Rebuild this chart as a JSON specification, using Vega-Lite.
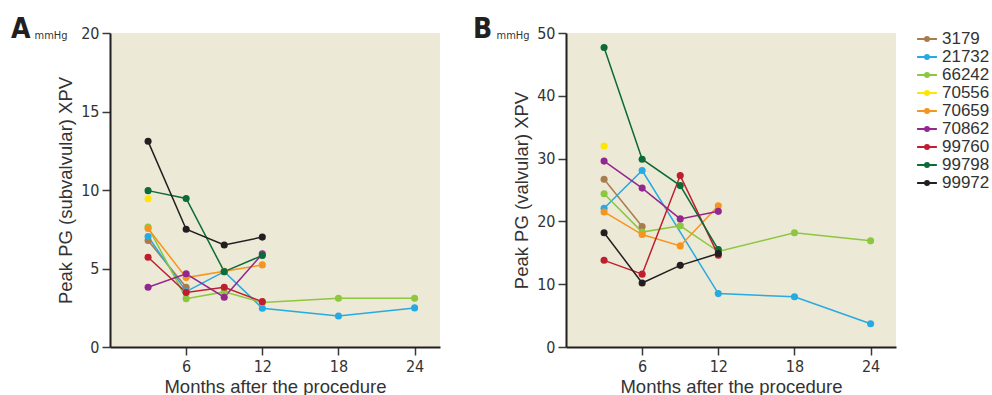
{
  "$schema": "https://vega.github.io/schema/vega-lite/v6.json",
  "padding": {"left": 11, "top": 16, "right": 95, "bottom": 0},
  "background": "white",
  "config": {
    "view": {"fill": "#ECE9D7", "stroke": null},
    "axis": {
      "grid": false,
      "domainColor": "#231F20", "domainWidth": 2,
      "tickColor": "#3a3a3a", "tickWidth": 1.5, "tickSize": 8,
      "labelFont": "Liberation Sans Narrow, DejaVu Sans Condensed, sans-serif", "labelFontSize": 16, "labelColor": "#333333", "labelPadding": 3,
      "titleFont": "Liberation Sans, sans-serif", "titleFontSize": 18.5, "titleFontWeight": "normal", "titleColor": "#333333"
    },
    "legend": {
      "labelFont": "Liberation Sans, sans-serif", "labelFontSize": 17, "labelColor": "#333333",
      "symbolType": "M-1.1,0H1.1M-0.22,0A0.22,0.22 0 1,0 0.22,0A0.22,0.22 0 1,0 -0.22,0",
      "symbolSize": 324, "symbolStrokeWidth": 2, "rowPadding": 0, "labelOffset": 5, "padding": 0
    },
    "title": {"font": "Liberation Sans Narrow, DejaVu Sans Condensed, sans-serif", "fontSize": 28, "fontWeight": "bold", "color": "#231F20"}
  },
  "datasets": {
    "A": [
      {"patient": "3179", "month": 3, "value": 6.78},
      {"patient": "3179", "month": 6, "value": 3.81},
      {"patient": "21732", "month": 3, "value": 7.04},
      {"patient": "21732", "month": 6, "value": 3.53},
      {"patient": "21732", "month": 9, "value": 4.8},
      {"patient": "21732", "month": 12, "value": 2.47},
      {"patient": "21732", "month": 18, "value": 1.98},
      {"patient": "21732", "month": 24, "value": 2.49},
      {"patient": "66242", "month": 3, "value": 7.64},
      {"patient": "66242", "month": 6, "value": 3.08},
      {"patient": "66242", "month": 9, "value": 3.51},
      {"patient": "66242", "month": 12, "value": 2.83},
      {"patient": "66242", "month": 18, "value": 3.11},
      {"patient": "66242", "month": 24, "value": 3.11},
      {"patient": "70556", "month": 3, "value": 9.44},
      {"patient": "70659", "month": 3, "value": 7.55},
      {"patient": "70659", "month": 6, "value": 4.42},
      {"patient": "70659", "month": 9, "value": 4.82},
      {"patient": "70659", "month": 12, "value": 5.23},
      {"patient": "70862", "month": 3, "value": 3.81},
      {"patient": "70862", "month": 6, "value": 4.66},
      {"patient": "70862", "month": 9, "value": 3.17},
      {"patient": "70862", "month": 12, "value": 5.93},
      {"patient": "99760", "month": 3, "value": 5.72},
      {"patient": "99760", "month": 6, "value": 3.47},
      {"patient": "99760", "month": 9, "value": 3.81},
      {"patient": "99760", "month": 12, "value": 2.89},
      {"patient": "99798", "month": 3, "value": 9.96},
      {"patient": "99798", "month": 6, "value": 9.46},
      {"patient": "99798", "month": 9, "value": 4.8},
      {"patient": "99798", "month": 12, "value": 5.83},
      {"patient": "99972", "month": 3, "value": 13.1},
      {"patient": "99972", "month": 6, "value": 7.5},
      {"patient": "99972", "month": 9, "value": 6.5},
      {"patient": "99972", "month": 12, "value": 7.0}
    ],
    "B": [
      {"patient": "3179", "month": 3, "value": 26.7},
      {"patient": "3179", "month": 6, "value": 19.2},
      {"patient": "21732", "month": 3, "value": 22.1},
      {"patient": "21732", "month": 6, "value": 28.1},
      {"patient": "21732", "month": 12, "value": 8.5},
      {"patient": "21732", "month": 18, "value": 8.0},
      {"patient": "21732", "month": 24, "value": 3.7},
      {"patient": "66242", "month": 3, "value": 24.4},
      {"patient": "66242", "month": 6, "value": 18.3},
      {"patient": "66242", "month": 9, "value": 19.3},
      {"patient": "66242", "month": 12, "value": 15.2},
      {"patient": "66242", "month": 18, "value": 18.2},
      {"patient": "66242", "month": 24, "value": 16.9},
      {"patient": "70556", "month": 3, "value": 32.0},
      {"patient": "70659", "month": 3, "value": 21.5},
      {"patient": "70659", "month": 6, "value": 17.9},
      {"patient": "70659", "month": 9, "value": 16.1},
      {"patient": "70659", "month": 12, "value": 22.5},
      {"patient": "70862", "month": 3, "value": 29.6},
      {"patient": "70862", "month": 6, "value": 25.3},
      {"patient": "70862", "month": 9, "value": 20.4},
      {"patient": "70862", "month": 12, "value": 21.6},
      {"patient": "99760", "month": 3, "value": 13.8},
      {"patient": "99760", "month": 6, "value": 11.6},
      {"patient": "99760", "month": 9, "value": 27.3},
      {"patient": "99760", "month": 12, "value": 14.6},
      {"patient": "99798", "month": 3, "value": 47.7},
      {"patient": "99798", "month": 6, "value": 29.9},
      {"patient": "99798", "month": 9, "value": 25.7},
      {"patient": "99798", "month": 12, "value": 15.5},
      {"patient": "99972", "month": 3, "value": 18.2},
      {"patient": "99972", "month": 6, "value": 10.2},
      {"patient": "99972", "month": 9, "value": 13.0},
      {"patient": "99972", "month": 12, "value": 14.9}
    ]
  },
  "spacing": 33,
  "resolve": {"scale": {"color": "shared"}, "legend": {"color": "shared"}},
  "hconcat": [
    {
      "width": 330, "height": 314,
      "title": {"text": "A", "anchor": "start", "frame": "group", "dx": -99, "offset": -41, "baseline": "alphabetic"},
      "data": {"name": "A"},
      "layer": [
        {
          "mark": {"type": "line", "strokeWidth": 1.5},
          "encoding": {
            "x": {"field": "month", "type": "quantitative", "scale": {"domain": [0, 26], "nice": false},
                  "axis": {"values": [6, 12, 18, 24], "title": "Months after the procedure", "titlePadding": 3}},
            "y": {"field": "value", "type": "quantitative", "scale": {"domain": [0, 20], "nice": false},
                  "axis": {"values": [0, 5, 10, 15, 20], "title": "Peak PG (subvalvular) XPV", "titlePadding": 5}},
            "color": {"field": "patient", "type": "nominal",
                      "scale": {"domain": ["3179", "21732", "66242", "70556", "70659", "70862", "99760", "99798", "99972"],
                                "range": ["#A97C50", "#27AAE1", "#8DC63F", "#FFE600", "#F7941D", "#92278F", "#BE1E2D", "#0C6B37", "#231F20"]},
                      "legend": {"title": null, "orient": "none", "legendX": 807, "legendY": -4}},
            "order": {"field": "month"}
          }
        },
        {
          "mark": {"type": "circle", "size": 50, "opacity": 1},
          "encoding": {
            "x": {"field": "month", "type": "quantitative",
                  "axis": {"orient": "top", "title": "mmHg", "domain": false, "ticks": false, "labels": false,
                           "titleX": -43, "titleY": 5, "titleAngle": 0, "titleAlign": "right", "titleBaseline": "alphabetic",
                           "titleFont": "Liberation Sans Narrow, DejaVu Sans Condensed, sans-serif", "titleFontSize": 11}},
            "y": {"field": "value", "type": "quantitative"},
            "color": {"field": "patient", "type": "nominal"}
          }
        }
      ],
      "resolve": {"axis": {"x": "independent"}}
    },
    {
      "width": 330, "height": 314,
      "title": {"text": "B", "anchor": "start", "frame": "group", "dx": -93, "offset": -41, "baseline": "alphabetic"},
      "data": {"name": "B"},
      "layer": [
        {
          "mark": {"type": "line", "strokeWidth": 1.5},
          "encoding": {
            "x": {"field": "month", "type": "quantitative", "scale": {"domain": [0, 26], "nice": false},
                  "axis": {"values": [6, 12, 18, 24], "title": "Months after the procedure", "titlePadding": 3}},
            "y": {"field": "value", "type": "quantitative", "scale": {"domain": [0, 50], "nice": false},
                  "axis": {"values": [0, 10, 20, 30, 40, 50], "title": "Peak PG (valvular) XPV", "titlePadding": 5}},
            "color": {"field": "patient", "type": "nominal",
                      "scale": {"domain": ["3179", "21732", "66242", "70556", "70659", "70862", "99760", "99798", "99972"],
                                "range": ["#A97C50", "#27AAE1", "#8DC63F", "#FFE600", "#F7941D", "#92278F", "#BE1E2D", "#0C6B37", "#231F20"]},
                      "legend": {"title": null, "orient": "none", "legendX": 807, "legendY": -4}},
            "order": {"field": "month"}
          }
        },
        {
          "mark": {"type": "circle", "size": 50, "opacity": 1},
          "encoding": {
            "x": {"field": "month", "type": "quantitative",
                  "axis": {"orient": "top", "title": "mmHg", "domain": false, "ticks": false, "labels": false,
                           "titleX": -37, "titleY": 5, "titleAngle": 0, "titleAlign": "right", "titleBaseline": "alphabetic",
                           "titleFont": "Liberation Sans Narrow, DejaVu Sans Condensed, sans-serif", "titleFontSize": 11}},
            "y": {"field": "value", "type": "quantitative"},
            "color": {"field": "patient", "type": "nominal"}
          }
        }
      ],
      "resolve": {"axis": {"x": "independent"}}
    }
  ]
}
